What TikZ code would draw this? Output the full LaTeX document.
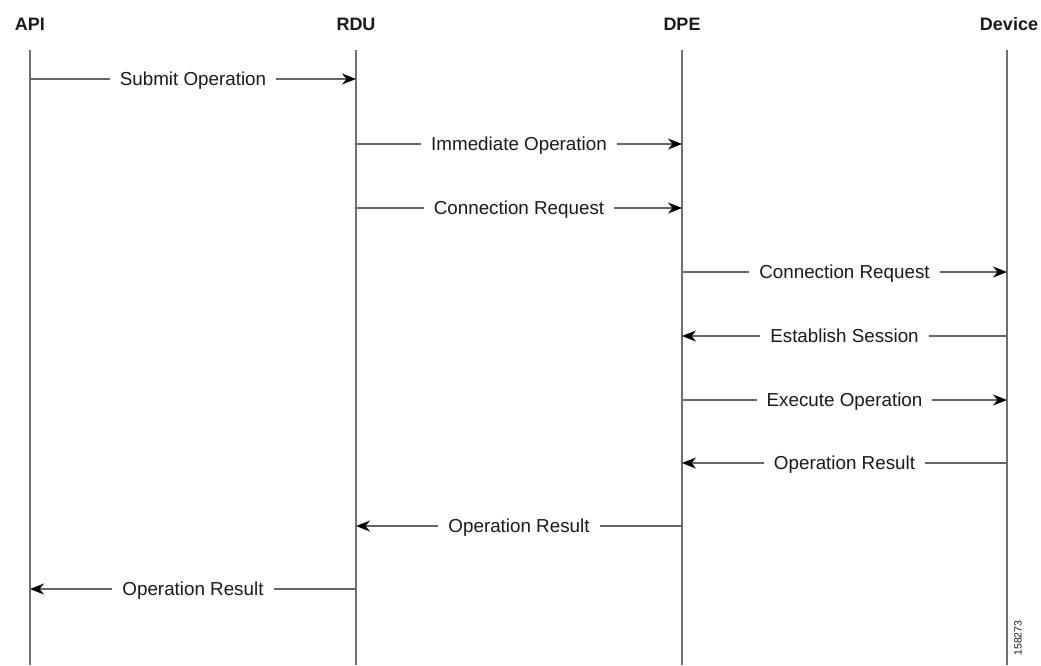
\documentclass[tikz,border=0pt]{standalone}
\usepackage{fontspec}
\setmainfont{Liberation Sans}
\usetikzlibrary{arrows.meta}
\definecolor{ln}{HTML}{666666}
\definecolor{lf}{HTML}{707070}
\definecolor{tx}{HTML}{1A1A1A}
\begin{document}
\begin{tikzpicture}[x=1pt,y=-1pt,
  hdr/.style={font=\fontsize{18}{20}\selectfont\bfseries, text=tx, inner sep=0pt},
  life/.style={draw=lf, line width=1.1pt},
  msg/.style={draw=ln, line width=1.3pt, -{Stealth[length=14pt,width=11pt,inset=4.5pt,color=black,fill=black]}},
  lbl/.style={fill=white, font=\fontsize{18.8}{20}\selectfont, text=tx, inner xsep=10pt, inner ysep=2pt, text height=12.5pt, text depth=0.5pt}]
\useasboundingbox (0,0) rectangle (1041,665);
\node[hdr] (api) at (30,24) {API};
\node[hdr] (rdu) at (356,24) {RDU};
\node[hdr] (dpe) at (682,24) {DPE};
\node[hdr] (dev) at (1009,24) {Device};
\coordinate (top) at (0,50);
\coordinate (bot) at (0,665);
\coordinate (xa) at (30,0);
\coordinate (xr) at (356,0);
\coordinate (xd) at (682,0);
\coordinate (xv) at (1007,0);
\draw[life] (xa |- top) -- (xa |- bot);
\draw[life] (xr |- top) -- (xr |- bot);
\draw[life] (xd |- top) -- (xd |- bot);
\draw[life] (xv |- top) -- (xv |- bot);
\coordinate (r1) at (0,79);
\coordinate (r2) at (0,144);
\coordinate (r3) at (0,208);
\coordinate (r4) at (0,272);
\coordinate (r5) at (0,336);
\coordinate (r6) at (0,400);
\coordinate (r7) at (0,463);
\coordinate (r8) at (0,526);
\coordinate (r9) at (0,589);
\draw[msg] (xa |- r1) -- node[lbl] (m1) {Submit Operation} (xr |- r1);
\draw[msg] (xr |- r2) -- node[lbl] (m2) {Immediate Operation} (xd |- r2);
\draw[msg] (xr |- r3) -- node[lbl] (m3) {Connection Request} (xd |- r3);
\draw[msg] (xd |- r4) -- node[lbl] (m4) {Connection Request} (xv |- r4);
\draw[msg] (xv |- r5) -- node[lbl] (m5) {Establish Session} (xd |- r5);
\draw[msg] (xd |- r6) -- node[lbl] (m6) {Execute Operation} (xv |- r6);
\draw[msg] (xv |- r7) -- node[lbl] (m7) {Operation Result} (xd |- r7);
\draw[msg] (xd |- r8) -- node[lbl] (m8) {Operation Result} (xr |- r8);
\draw[msg] (xr |- r9) -- node[lbl] (m9) {Operation Result} (xa |- r9);
\node[rotate=90, font=\fontsize{10.5}{12}\selectfont, text=tx, inner sep=0pt] (id) at (1018,638) {158273};
\end{tikzpicture}
\end{document}
